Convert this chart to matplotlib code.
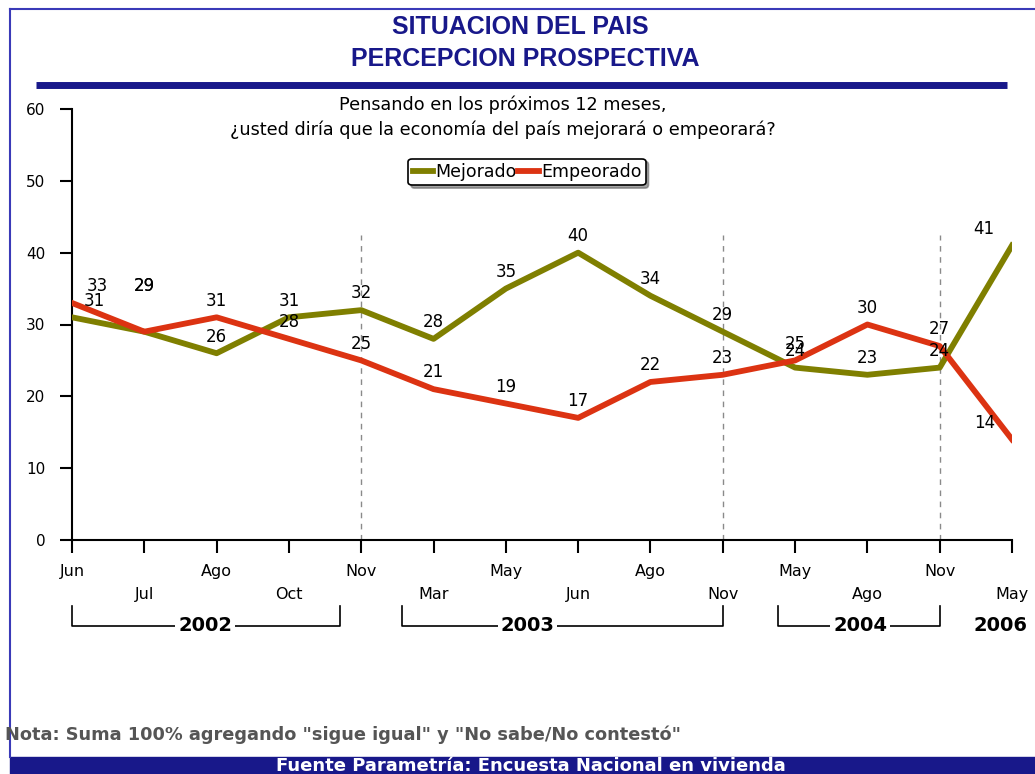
import matplotlib
matplotlib.use("Agg")
import matplotlib.pyplot as plt
from matplotlib import font_manager
from matplotlib.patches import Rectangle
from matplotlib.lines import Line2D

# datos
meses = ['Jun', 'Jul', 'Ago', 'Oct', 'Nov', 'Mar', 'May', 'Jun', 'Ago', 'Nov',
         'May', 'Ago', 'Nov', 'May']
mejorado = [31, 29, 26, 31, 32, 28, 35, 40, 34, 29, 24, 23, 24, 41]
empeorado = [33, 29, 31, 28, 25, 21, 19, 17, 22, 23, 25, 30, 27, 14]
anios = ['2002', '2003', '2004', '2006']
# (inicio, fin, centro del texto) en posiciones del eje x; None = sin corchete
corchetes = [(0, 3.7, 1.84), (4.56, 9, 6.3), (9.76, 12, 10.9), (None, None, 12.84)]
cortes = [4, 9, 12]

VERDE = '#7f7f00'
ROJO = '#dc3312'
AZUL = '#18188a'

nombres = {f.name for f in font_manager.fontManager.ttflist}
narrow = 'Liberation Sans Narrow' if 'Liberation Sans Narrow' in nombres else 'Liberation Sans'

fig = plt.figure(figsize=(10.35, 7.74), dpi=100)
W, H = 1035, 774

def fx(px):
    return px / W

def fy(py):
    return 1 - py / H

# marco y barras
fig.add_artist(Line2D([fx(10), 1], [fy(9), fy(9)], color='#3a3ab8', lw=1.5))
fig.add_artist(Line2D([fx(10), fx(10)], [fy(9), fy(757)], color='#3a3ab8', lw=1.5))
fig.add_artist(Line2D([fx(36), fx(1007)], [fy(85), fy(85)], color=AZUL, lw=5,
                      solid_capstyle='butt'))
fig.add_artist(Rectangle((fx(10), 0), 1, fy(757), transform=fig.transFigure,
                         color=AZUL, zorder=0))

fig.text(fx(520), fy(27), 'SITUACION DEL PAIS', color=AZUL, fontsize=18,
         fontweight='bold', family=narrow, ha='center', va='center')
fig.text(fx(525), fy(59), 'PERCEPCION PROSPECTIVA', color=AZUL, fontsize=18,
         fontweight='bold', family=narrow, ha='center', va='center')
fig.text(fx(503), fy(105), 'Pensando en los próximos 12 meses,', fontsize=12.7,
         ha='center', va='center')
fig.text(fx(503), fy(130), '¿usted diría que la economía del país mejorará o empeorará?',
         fontsize=12.7, ha='center', va='center')
fig.text(fx(5), fy(735), 'Nota: Suma 100% agregando "sigue igual" y "No sabe/No contestó"',
         fontsize=12.8, fontweight='bold', color='#555555', ha='left', va='center')
fig.text(fx(531), fy(766), 'Fuente Parametría: Encuesta Nacional en vivienda',
         fontsize=13, fontweight='bold', color='white', ha='center', va='center')

ax = fig.add_axes([fx(72), fy(540), fx(1012) - fx(72), fy(109) - fy(540)])
x = list(range(len(meses)))
ax.plot(x, mejorado, color=VERDE, lw=4.2, label='Mejorado', zorder=3)
ax.plot(x, empeorado, color=ROJO, lw=4.2, label='Empeorado', zorder=4)

for c in cortes:
    ax.plot([c, c], [0, 42.4], color='#8a8a8a', lw=1, ls=(0, (4, 4)), zorder=1)

def etiqueta(i, v, desv=0):
    dx, dy = 0, 12
    if i == 0:
        dx = 18 + desv
    elif i == len(meses) - 1:
        dx = -20
    elif i == 1:
        dy = 33
    ax.annotate(str(v), (i, v), xytext=(dx, dy), textcoords='offset points',
                ha='center', va='center', fontsize=12, zorder=6)

for i, v in enumerate(mejorado):
    etiqueta(i, v, desv=-2)
for i, v in enumerate(empeorado):
    etiqueta(i, v)

ax.set_xlim(0, 13)
ax.set_ylim(0, 60)
ax.set_yticks(range(0, 61, 10))
ax.spines['top'].set_visible(False)
ax.spines['right'].set_visible(False)
for s in ('left', 'bottom'):
    ax.spines[s].set_linewidth(1.5)
ax.tick_params(axis='y', length=9, width=1.5, pad=10, labelsize=11)

pares = [i for i in x if i % 2 == 0]
impares = [i for i in x if i % 2 == 1]
ax.set_xticks(pares, [meses[i] for i in pares])
ax.set_xticks(impares, [meses[i] for i in impares], minor=True)
ax.tick_params(axis='x', which='major', length=9, width=1.5, pad=8, labelsize=11.5)
ax.tick_params(axis='x', which='minor', length=9, width=1.5, pad=25, labelsize=11.5)

tr = ax.get_xaxis_transform()
for anio, (a, b, c) in zip(anios, corchetes):
    if a is not None:
        ax.plot([a, a, b, b], [-0.152, -0.199, -0.199, -0.152], color='black',
                lw=1.2, transform=tr, clip_on=False)
    ax.text(c, -0.199, anio, transform=tr, ha='center', va='center', fontsize=14,
            fontweight='bold', bbox=dict(facecolor='white', edgecolor='none', pad=2))

leg = ax.legend(loc='center', bbox_to_anchor=(fx(527), fy(172)),
                bbox_transform=fig.transFigure, ncol=2, fontsize=12.5,
                handlelength=1.2, handletextpad=0.1, columnspacing=0.1,
                borderpad=0.25, fancybox=True, shadow=True, framealpha=1)
leg.get_frame().set_edgecolor('black')
leg.get_frame().set_linewidth(1.2)

fig.savefig('out.png', dpi=100)
